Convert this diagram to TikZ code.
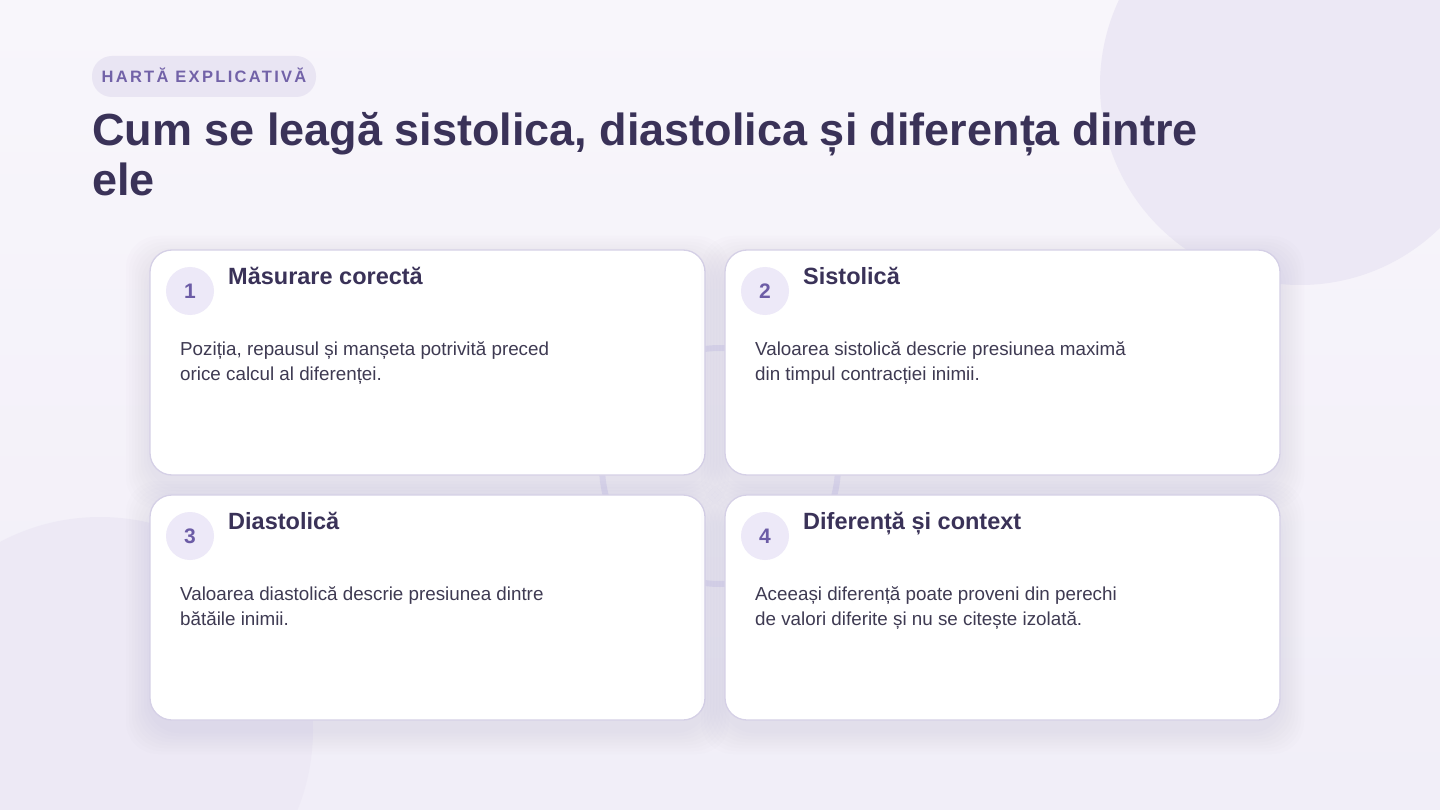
\documentclass[tikz,border=0pt]{standalone}
\usepackage{fontspec}
\setmainfont{Liberation Sans}
\newfontfamily\pillfont{Liberation Sans}[LetterSpace=14]
\usepackage{tikz}
\usetikzlibrary{calc}
\usetikzlibrary{shapes}
\definecolor{bgtop}{HTML}{F8F6FB}
\definecolor{bgbot}{HTML}{F1EEF8}
\definecolor{blob}{HTML}{ECE8F5}
\definecolor{ringc}{HTML}{DCD7EB}
\definecolor{shadowc}{HTML}{7E72B0}
\definecolor{cardline}{HTML}{D5D0E6}
\definecolor{badgefill}{HTML}{EDE9F8}
\definecolor{badgetext}{HTML}{6C5CA6}
\definecolor{headtext}{HTML}{3A3258}
\definecolor{bodytext}{HTML}{3E3A52}
\definecolor{pillfill}{HTML}{E9E5F3}
\definecolor{pilltext}{HTML}{7262A8}
\tikzset{
  badge/.style={shape=circle,fill=badgefill,draw=none,inner sep=0pt,minimum size=48pt,
    text=badgetext,font=\fontsize{21}{21}\selectfont\bfseries},
  cardtitle/.style={anchor=base west,inner sep=0pt,text=headtext,font=\fontsize{23.5}{26}\selectfont\bfseries},
  cardbody/.style={anchor=base west,inner sep=0pt,align=left,text=bodytext,font=\fontsize{18.8}{24.5}\selectfont}
}
% x y name number title body
\newcommand{\card}[6]{
  \foreach \s in {3,6,...,24} {\fill[shadowc,opacity=0.015,rounded corners=32pt] (#1-\s,#2-\s+10) rectangle (#1+555+\s,#2+225+\s+10);}
  \draw[fill=white,draw=cardline,line width=1.3pt,rounded corners=22pt] (#1,#2) rectangle (#1+555,#2+225);
  \node[badge] (#3num) at (#1+40,#2+41) {#4};
  \node[cardtitle] (#3title) at (#1+78,#2+284-250) {#5};
  \node[cardbody] (#3body) at (#1+30,#2+380-250) {#6};
}

\begin{document}
\begin{tikzpicture}[x=1pt,y=-1pt]
        \useasboundingbox (0,0) rectangle (1440,810);
        % background
        \shade[top color=bgtop,bottom color=bgbot] (0,0) rectangle (1440,810);
        \fill[blob] (1300,85) circle (200);
        \fill[blob,opacity=0.8] (100,730) circle (213);
        \draw[ringc,opacity=0.55,line width=6pt] (720,466) circle (118);

        % header
        \node[shape=rectangle,rounded corners=20pt,fill=pillfill,inner sep=0pt,minimum width=224pt,minimum height=41pt] (pill) at (204,76.5) {};
        \node[anchor=base,inner sep=0pt,text=pilltext,font=\fontsize{16.5}{17}\selectfont\bfseries\pillfont] (kicker) at (pill.center |- 0,83) {HARTĂ EXPLICATIVĂ};
        \node[anchor=base west,inner sep=0pt,align=left,text=headtext,font=\fontsize{45}{50}\selectfont\bfseries] (title) at (92,196) {Cum se leagă sistolica, diastolica și diferența dintre\\ele};

        % row1
        \card{150}{250}{a}{1}{Măsurare corectă}{Poziția, repausul și manșeta potrivită preced\\orice calcul al diferenței.}
        \card{725}{250}{b}{2}{Sistolică}{Valoarea sistolică descrie presiunea maximă\\din timpul contracției inimii.}
        % row2
        \card{150}{495}{c}{3}{Diastolică}{Valoarea diastolică descrie presiunea dintre\\bătăile inimii.}
        \card{725}{495}{d}{4}{Diferență și context}{Aceeași diferență poate proveni din perechi\\de valori diferite și nu se citește izolată.}
\end{tikzpicture}
\end{document}
